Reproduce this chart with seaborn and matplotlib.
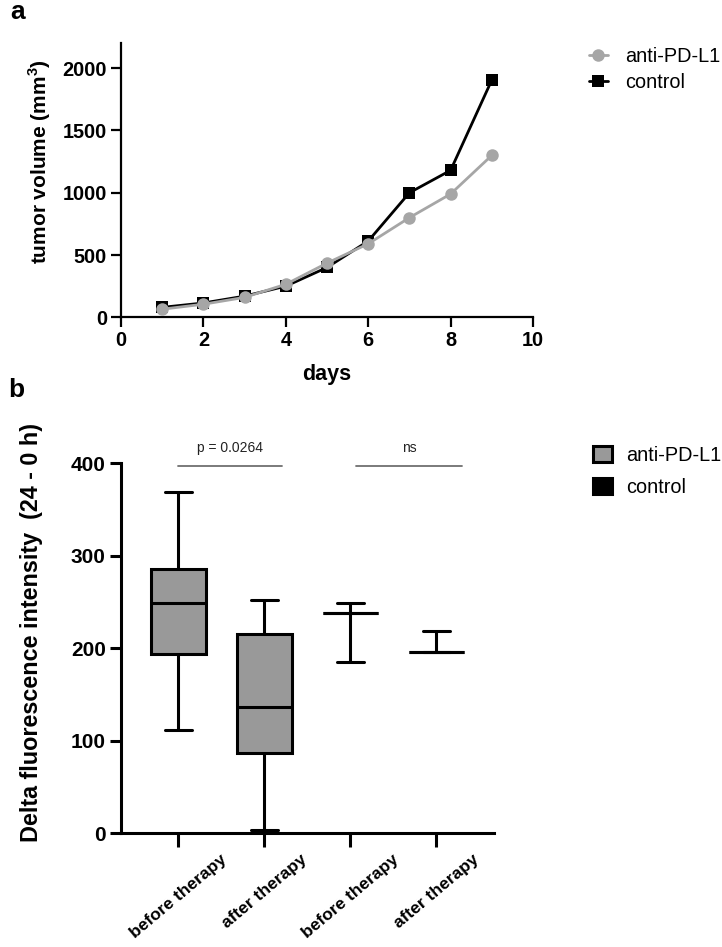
import pandas as pd
import matplotlib.pyplot as plt
import seaborn as sns

# panel a: tumor growth
DAYS = [1, 2, 3, 4, 5, 6, 7, 8, 9]
ANTI_VOLUME = [65, 105, 160, 265, 435, 590, 800, 990, 1300]
CONTROL_VOLUME = [80, 115, 170, 250, 400, 612, 1000, 1180, 1905]

GROUPS = ["anti-PD-L1", "control"]

# panel b: min, q1, median, q3, max of each box
BOX_LABELS = ["before therapy", "after therapy", "before therapy", "after therapy"]
BOX_GROUPS = ["anti-PD-L1", "anti-PD-L1", "control", "control"]
BOX_VALUES = [
    [112, 194, 249, 286, 369],
    [4, 87, 137, 215, 252],
    [185, 238, 238, 238, 249],
    [196, 196, 196, 196, 219],
]
SIG_TEXT = ["p = 0.0264", "ns"]

GREY_LINE = "#a6a6a6"
GREY_BOX = "#999999"
SIG_GREY = "#707070"

sns.set_style("ticks")
plt.rcParams["font.family"] = ["Liberation Sans", "DejaVu Sans"]
plt.rcParams["mathtext.fontset"] = "custom"
plt.rcParams["mathtext.rm"] = "Liberation Sans"
plt.rcParams["mathtext.bf"] = "Liberation Sans:bold"
for key in ["text.color", "axes.labelcolor", "xtick.color", "ytick.color",
            "axes.edgecolor"]:
    plt.rcParams[key] = "black"

df_a = pd.DataFrame({
    "day": DAYS + DAYS,
    "volume": ANTI_VOLUME + CONTROL_VOLUME,
    "group": [GROUPS[0]] * len(DAYS) + [GROUPS[1]] * len(DAYS),
})

box_keys = [f"{g}|{c}" for g, c in zip(BOX_GROUPS, BOX_LABELS)]
rows = []
for key, grp, vals in zip(box_keys, BOX_GROUPS, BOX_VALUES):
    for v in vals:
        rows.append({"condition": key, "group": grp, "value": v})
df_b = pd.DataFrame(rows)

fig = plt.figure(figsize=(7.22, 9.47), dpi=100)
W, H = 722, 947

# ---- panel a ----
ax_a = fig.add_axes([121 / W, 1 - 317.3 / H, 412 / W, 274 / H])
sns.lineplot(
    data=df_a, x="day", y="volume", hue="group", style="group",
    hue_order=GROUPS, style_order=GROUPS,
    markers={"anti-PD-L1": "o", "control": "s"}, dashes=False,
    palette={"anti-PD-L1": GREY_LINE, "control": "black"},
    linewidth=2, markersize=9, markeredgewidth=0, ax=ax_a
)
ax_a.lines[0].set_zorder(4)
ax_a.lines[1].set_zorder(3)

ax_a.set_xlim(0, 10)
ax_a.set_ylim(0, 2200)
ax_a.set_xticks(range(0, 11, 2))
ax_a.set_yticks(range(0, 2001, 500))
ax_a.tick_params(length=7, width=1.6, labelsize=14.3, pad=3)
for lab in ax_a.get_xticklabels() + ax_a.get_yticklabels():
    lab.set_fontweight("bold")
for side in ["left", "bottom"]:
    ax_a.spines[side].set_linewidth(1.6)
sns.despine(ax=ax_a)

ax_a.set_xlabel("days", fontsize=15.5, fontweight="bold")
ax_a.xaxis.set_label_coords(0.5, -0.17)
ax_a.set_ylabel(r"tumor volume (mm$^\mathbf{3}$)", fontsize=15, fontweight="bold")
ax_a.yaxis.set_label_coords(-0.164, 0.57)

sns.move_legend(
    ax_a, "upper left", bbox_to_anchor=(589 / W, 1 - 47 / H),
    bbox_transform=fig.transFigure, frameon=False, title=None,
    fontsize=14.3, handlelength=0.95, handletextpad=0.85,
    labelspacing=0.35, borderpad=0, borderaxespad=0
)

# ---- panel b ----
ax_b = fig.add_axes([121 / W, 1 - 833.3 / H, 373 / W, 370 / H])
sns.boxplot(
    data=df_b, x="condition", y="value", hue="group",
    order=box_keys, hue_order=GROUPS,
    palette={"anti-PD-L1": GREY_BOX, "control": "black"},
    saturation=1, dodge=False, width=0.64, whis=(0, 100),
    linecolor="black", linewidth=2.2, showfliers=False, ax=ax_b
)

ax_b.set_xlim(-0.666, 3.67)
ax_b.set_ylim(0, 400)
ax_b.set_yticks(range(0, 401, 100))
ax_b.set_xticks(range(len(BOX_LABELS)))
ax_b.set_xticklabels(BOX_LABELS, rotation=40, ha="center", va="top",
                     fontsize=12.5, fontweight="bold")
ax_b.tick_params(axis="y", length=8, width=2.2, labelsize=15, pad=3)
ax_b.tick_params(axis="x", length=10, width=2.2, pad=3)
for lab in ax_b.get_yticklabels():
    lab.set_fontweight("bold")
for side in ["left", "bottom"]:
    ax_b.spines[side].set_linewidth(2.2)
sns.despine(ax=ax_b)

ax_b.set_xlabel("")
ax_b.set_ylabel("Delta fluorescence intensity  (24 - 0 h)",
                fontsize=16.8, fontweight="bold")
ax_b.yaxis.set_label_coords(-0.21, 0.544)

# significance bars
sig_spans = [(0.0, 1.2), (2.07, 3.3)]
for (x0, x1), txt in zip(sig_spans, SIG_TEXT):
    ax_b.plot([x0, x1], [397, 397], color=SIG_GREY, linewidth=1.3, clip_on=False)
    ax_b.text((x0 + x1) / 2, 412, txt, ha="center", va="baseline",
              fontsize=10, color="#222222")

sns.move_legend(
    ax_b, "upper left", bbox_to_anchor=(593 / W, 1 - 446 / H),
    bbox_transform=fig.transFigure, frameon=False, title=None,
    fontsize=14.3, handlelength=0.95, handleheight=0.9, handletextpad=0.7,
    labelspacing=0.65, borderpad=0, borderaxespad=0
)

fig.text(10 / W, 1 - 19 / H, "a", fontsize=19, fontweight="bold", va="baseline")
fig.text(8 / W, 1 - 397 / H, "b", fontsize=19, fontweight="bold", va="baseline")

fig.savefig("out.png", dpi=100)
plt.close(fig)
